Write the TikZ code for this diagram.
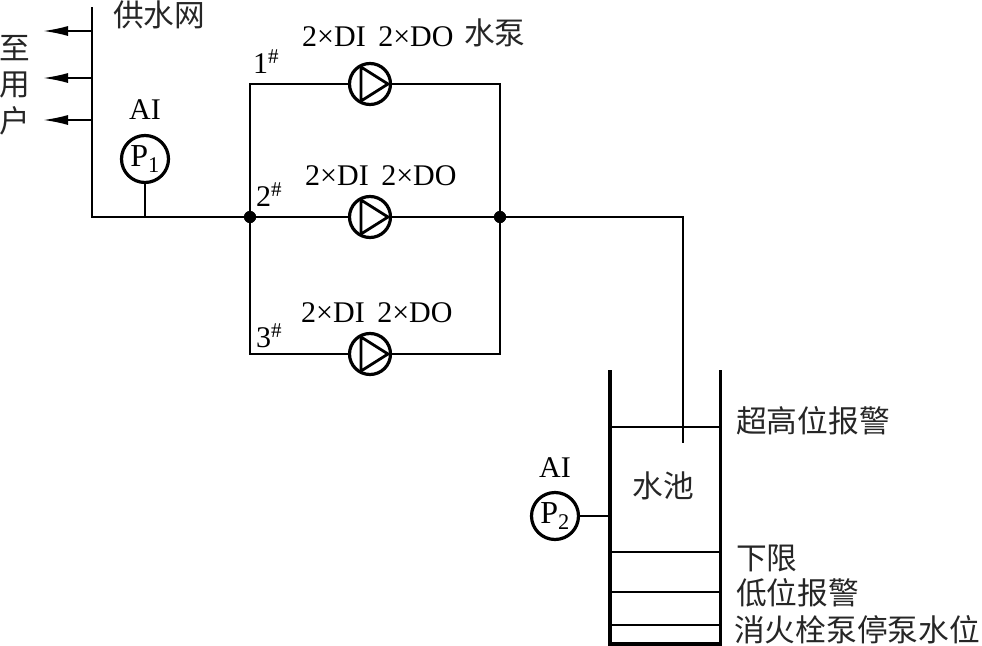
\documentclass[tikz,border=0pt]{standalone}
\usepackage{fontspec}
\usetikzlibrary{arrows.meta}
\setmainfont{Liberation Serif}
\newfontfamily\cjk{Noto Sans CJK SC}
\begin{document}
\begin{tikzpicture}[x=1pt,y=-1pt,
  wire/.style={line width=2pt},
  thin wire/.style={line width=1.6pt},
  junction/.style={circle,fill=black,inner sep=0pt,minimum size=12pt},
  gauge/.style={circle,draw,line width=3.2pt,minimum size=47pt,inner sep=0pt,font=\fontsize{32}{32}\selectfont},
  pumpc/.style={circle,draw,line width=3.2pt,minimum size=41pt,inner sep=0pt,fill=white},
  lab/.style={inner sep=0pt,font=\fontsize{30}{30}\selectfont},
  cn/.style={inner sep=0pt,font=\cjk\fontsize{30.7}{30.7}\selectfont,text=black!85},
  arrowln/.style={line width=1.8pt,-{Latex[length=25pt,width=10pt]}}
]
\useasboundingbox (0,0) rectangle (982,645);
% coordinates
\coordinate (top) at (92,7);
\coordinate (corner) at (92,217);
\coordinate (a1) at (92,31); \coordinate (a1e) at (43,31);
\coordinate (a2) at (92,78); \coordinate (a2e) at (43,78);
\coordinate (a3) at (92,120); \coordinate (a3e) at (43,120);
\coordinate (tl) at (250,84); \coordinate (tr) at (500,84);
\coordinate (bl) at (250,354); \coordinate (br) at (500,354);
\coordinate (bend) at (683,217); \coordinate (inlet) at (683,443);
\coordinate (tankTL) at (610,370); \coordinate (tankBL) at (610,644);
\coordinate (tankTR) at (720,370); \coordinate (tankBR) at (720,644);
% nodes
\node[junction] (j1) at (250,217) {};
\node[junction] (j2) at (500,217) {};
\node[gauge] (p1) at (145,159) {P\textsubscript{1}};
\node[gauge] (p2) at (555,516) {P\textsubscript{2}};
\coordinate (p1foot) at (145,217);
\coordinate (p2foot) at (610,516);
% pipes
\draw[wire] (top) -- (corner) -- (j1) -- (j2) -- (bend) -- (inlet);
\draw[wire] (p1) -- (p1foot);
\draw[wire] (p2) -- (p2foot);
\draw[thin wire] (bl) -- (tl) -- (tr) -- (br) -- cycle;
\draw[arrowln] (a1) -- (a1e);
\draw[arrowln] (a2) -- (a2e);
\draw[arrowln] (a3) -- (a3e);
% pumps
\foreach \n/\y in {pa/84,pb/217,pc/354}{
  \node[pumpc] (\n) at (370,\y) {};
  \draw[line width=2.8pt,line join=miter] (361,\y-17) -- (361,\y+17) -- (388,\y) -- cycle;
}
\node[junction] at (j1) {};
\node[junction] at (j2) {};
% tank
\draw[line width=4.5pt] (tankTL) -- (tankBL);
\draw[line width=3pt] (tankTR) -- (tankBR);
\draw[line width=4pt] (608,644) -- (722,644);
\coordinate (l1l) at (610,427); \coordinate (l1r) at (720,427);
\coordinate (l2l) at (610,552); \coordinate (l2r) at (720,552);
\coordinate (l3l) at (610,592); \coordinate (l3r) at (720,592);
\coordinate (l4l) at (610,625); \coordinate (l4r) at (720,625);
\draw[thin wire] (l1l) -- (l1r);
\draw[line width=1.1pt] (l2l) -- (l2r);
\draw[wire] (l3l) -- (l3r);
\draw[wire] (l4l) -- (l4r);
% labels
\node[cn,anchor=west] (t1) at (113,15) {供水网};
\node[cn] (t2) at (15,48) {至};
\node[cn] (t3) at (15,85) {用};
\node[cn] (t4) at (15,121) {户};
\node[lab] (t5) at (145,110) {AI};
\node[lab] (t6) at (555,468) {AI};
\node[lab,anchor=base west] (t7) at (253,73) {1\textsuperscript{\#}};
\node[lab,anchor=base west] (t8) at (256,206) {2\textsuperscript{\#}};
\node[lab,anchor=base west] (t9) at (256,347) {3\textsuperscript{\#}};
\node[lab,anchor=base west] (t10) at (302,46) {2×DI\hspace{5pt} 2×DO};
\node[cn,anchor=west] (t11) at (464,33) {水泵};
\node[lab,anchor=base west] (t12) at (305,185) {2×DI\hspace{5pt} 2×DO};
\node[lab,anchor=base west] (t13) at (301,322) {2×DI\hspace{5pt} 2×DO};
\node[cn] (t14) at (663,486) {水池};
\node[cn,anchor=west] (t15) at (736,421) {超高位报警};
\node[cn,anchor=west] (t16) at (736,558) {下限};
\node[cn,anchor=west] (t17) at (736,593) {低位报警};
\node[cn,anchor=west] (t18) at (734,630) {消火栓泵停泵水位};
\end{tikzpicture}
\end{document}
